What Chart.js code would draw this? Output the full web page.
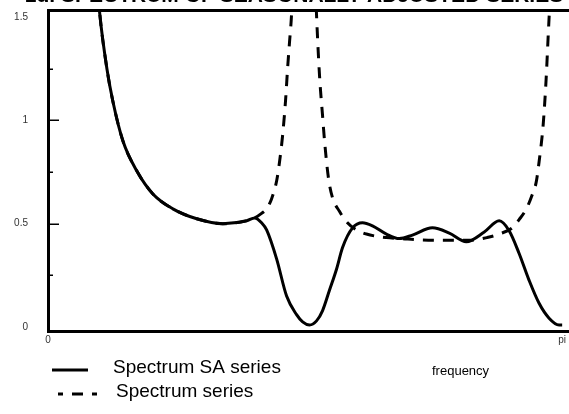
<!DOCTYPE html>
<html><head><meta charset="utf-8">
<script src="https://cdn.jsdelivr.net/npm/chart.js@4/dist/chart.umd.min.js"></script>
<style>
html,body{margin:0;padding:0;background:#fff;overflow:hidden;width:569px;height:414px;}
#wrap{position:relative;width:569px;height:414px;overflow:hidden;background:#fff;}
#c{position:absolute;left:0;top:-16px;}
</style></head>
<body><div id="wrap"><canvas id="c" width="569" height="430"></canvas></div>
<script>
const titleText = '1d. SPECTRUM OF SEASONALLY ADJUSTED SERIES';
const seriesNames = ['Spectrum SA series', 'Spectrum series'];
const xAxisLabel = 'frequency';
const xTickValues = [0, Math.PI];
const xTickLabels = ['0', 'pi'];
const yTickValues = [0, 0.5, 1, 1.5];
const yMajorMarks = [0.5, 1];
const yMinorMarks = [0.25, 0.75, 1.25];

// Spectrum of the seasonally adjusted series (frequency in radians)
const saFreq = [0.287,0.317,0.360,0.397,0.458,0.543,0.641,0.763,0.909,1.068,1.214,1.263,1.305,1.336,1.397,1.458,1.519,1.556,1.598,1.641,1.678,1.720,1.763,1.800,1.861,1.922,1.983,2.068,2.147,2.227,2.349,2.452,2.556,2.666,2.757,2.818,2.879,2.940,3.001,3.062,3.123,3.142];
const saValues = [1.8,1.51,1.25,1.09,0.90,0.755,0.644,0.572,0.524,0.50,0.514,0.528,0.505,0.47,0.33,0.15,0.06,0.025,0.01,0.03,0.08,0.178,0.28,0.385,0.48,0.505,0.49,0.45,0.428,0.445,0.48,0.455,0.413,0.46,0.514,0.466,0.356,0.226,0.115,0.043,0.01,0.01];

// Spectrum of the original series
const rawFreq = [0.287,0.317,0.360,0.397,0.458,0.543,0.641,0.763,0.909,1.068,1.214,1.263,1.305,1.336,1.366,1.397,1.415,1.434,1.452,1.464,1.476,1.488,1.507,1.562,1.623,1.641,1.659,1.678,1.690,1.714,1.739,1.781,1.824,1.885,1.946,2.068,2.166,2.251,2.434,2.574,2.684,2.757,2.837,2.879,2.922,2.959,2.983,3.001,3.026,3.044,3.056,3.068,3.081,3.111,3.142];
const rawValues = [1.8,1.51,1.25,1.09,0.90,0.755,0.644,0.572,0.524,0.50,0.514,0.528,0.55,0.572,0.62,0.707,0.80,0.93,1.1,1.25,1.38,1.51,1.9,6.0,1.9,1.51,1.22,1.02,0.90,0.72,0.625,0.56,0.51,0.47,0.45,0.433,0.428,0.423,0.42,0.42,0.433,0.45,0.48,0.52,0.57,0.64,0.70,0.80,0.98,1.2,1.4,1.6,1.9,3.0,6.0];

const FONT = "'Liberation Sans', Arial, Helvetica, sans-serif";
const toPts = (xs, ys) => xs.map((x, i) => ({x: x, y: ys[i]}));

const decor = {
  id: 'decor',
  afterDatasetsDraw(chart) {
    const ctx = chart.ctx, ys = chart.scales.y, a = chart.chartArea;
    ctx.save();
    ctx.strokeStyle = '#000';
    ctx.lineWidth = 1.5;
    yMajorMarks.forEach(v => {
      const py = Math.round(ys.getPixelForValue(v)) + 0.25;
      ctx.beginPath(); ctx.moveTo(a.left, py); ctx.lineTo(a.left + 11, py); ctx.stroke();
    });
    yMinorMarks.forEach(v => {
      const py = Math.round(ys.getPixelForValue(v)) + 0.25;
      ctx.beginPath(); ctx.moveTo(a.left, py); ctx.lineTo(a.left + 5, py); ctx.stroke();
    });
    ctx.restore();
  },
  afterDraw(chart) {
    const ctx = chart.ctx, a = chart.chartArea;
    const ds = chart.data.datasets;
    ctx.save();
    ctx.strokeStyle = ds[0].borderColor; ctx.lineWidth = ds[0].borderWidth;
    ctx.setLineDash([]);
    ctx.beginPath(); ctx.moveTo(52, a.bottom + 39); ctx.lineTo(88, a.bottom + 39); ctx.stroke();
    ctx.strokeStyle = ds[1].borderColor; ctx.lineWidth = ds[1].borderWidth;
    ctx.setLineDash(ds[1].borderDash); ctx.lineDashOffset = 6;
    ctx.beginPath(); ctx.moveTo(58, a.bottom + 63); ctx.lineTo(97, a.bottom + 63); ctx.stroke();
    ctx.setLineDash([]);
    ctx.fillStyle = '#000';
    ctx.textBaseline = 'middle'; ctx.textAlign = 'left';
    ctx.font = '19px ' + FONT;
    ctx.fillText(ds[0].label, 113, a.bottom + 37);
    ctx.fillText(ds[1].label, 116, a.bottom + 61);
    ctx.font = '13px ' + FONT;
    ctx.fillText(xAxisLabel, 432, a.bottom + 40);
    ctx.restore();
  }
};

new Chart(document.getElementById('c'), {
  type: 'line',
  data: {
    datasets: [
      {label: seriesNames[0], data: toPts(saFreq, saValues), borderColor: '#000', borderWidth: 3,
       pointRadius: 0, fill: false, cubicInterpolationMode: 'monotone'},
      {label: seriesNames[1], data: toPts(rawFreq, rawValues), borderColor: '#000', borderWidth: 3,
       borderDash: [11, 9], pointRadius: 0, fill: false, cubicInterpolationMode: 'monotone'}
    ]
  },
  options: {
    responsive: false,
    animation: false,
    events: [],
    layout: {padding: {left: 0, right: -19, top: 0, bottom: 63}},
    plugins: {
      legend: {display: false},
      tooltip: {enabled: false},
      title: {display: true, text: titleText, color: '#000',
              font: {family: FONT, size: 21, weight: 'bold', lineHeight: 1},
              padding: {top: 0, bottom: 3}}
    },
    scales: {
      x: {type: 'linear', position: 'bottom', min: 0, max: 3.18,
          afterBuildTicks: s => { s.ticks = xTickValues.map(v => ({value: v})); },
          afterFit: s => { s.height = 20; },
          ticks: {autoSkip: false, maxRotation: 0, padding: 3, color: '#333',
                  font: {family: FONT, size: 10},
                  callback: (v, i) => xTickLabels[i]},
          grid: {display: false, drawTicks: false},
          border: {display: true, color: '#000', width: 3}},
      xTop: {type: 'linear', position: 'top', min: 0, max: 3.18,
          afterFit: s => { s.height = 0; },
          ticks: {display: false}, grid: {display: false, drawTicks: false},
          border: {display: true, color: '#000', width: 3}},
      y: {type: 'linear', min: -0.019, max: 1.534,
          afterBuildTicks: s => { s.ticks = yTickValues.map(v => ({value: v})); },
          afterFit: s => { s.width = 48; },
          ticks: {padding: 20, color: '#333', font: {family: FONT, size: 10},
                  callback: v => String(v)},
          grid: {display: false, drawTicks: false},
          border: {display: true, color: '#000', width: 3}}
    }
  },
  plugins: [decor]
});
</script>
</body></html>
